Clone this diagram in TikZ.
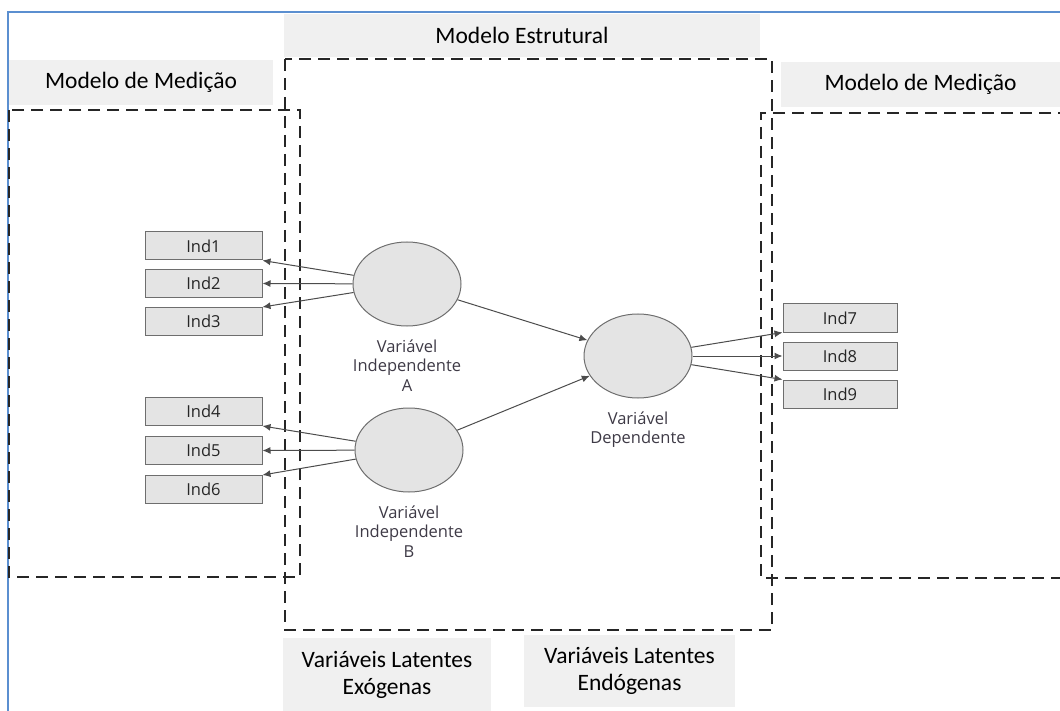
\documentclass[tikz,border=0pt]{standalone}
\usepackage{fontspec}
\setmainfont{Carlito}
\newfontfamily\indfont{Open Sans}
\usepackage{xcolor}
\usetikzlibrary{shapes.geometric,arrows.meta,positioning}

\definecolor{frameblue}{HTML}{5B8FD0}
\definecolor{labelgray}{HTML}{F0F0F0}
\definecolor{boxgray}{HTML}{E4E4E4}
\definecolor{edgegray}{HTML}{6E6E6E}
\definecolor{varcolor}{HTML}{3E3A46}

\tikzset{
  label box/.style={fill=labelgray, inner sep=0pt, align=center,
    font=\fontsize{23.5}{27}\selectfont, text=black},
  zone/.style={dash pattern=on 12pt off 7pt, line width=1.8pt, black!85},
  ind/.style={draw=edgegray, fill=boxgray, line width=1pt, minimum width=117pt,
    minimum height=28pt, inner sep=0pt, font=\indfont\fontsize{16.5}{18}\selectfont, text=black!85},
  latent/.style={ellipse, draw=edgegray, fill=boxgray, line width=1pt,
    minimum width=108pt, minimum height=84pt},
  varlabel/.style={inner sep=0pt, align=center,
    font=\indfont\fontsize{16.5}{19.5}\selectfont, text=varcolor},
  arr/.style={-{Latex[length=8pt,width=7pt]}, draw=black!70, line width=1pt}
}

\begin{document}
\begin{tikzpicture}[x=1pt,y=-1pt]
    % Fix the page size
    \clip (0,0) rectangle (1060,711);

    % Gray title boxes
    \node[label box, minimum width=476pt, minimum height=43pt] (estrutural) at (522,35.5) {Modelo Estrutural};
    \node[label box, minimum width=264pt, minimum height=45pt] (medicaoL) at (141,82.5) {Modelo de Medição};
    \node[label box, minimum width=279pt, minimum height=45pt] (medicaoR) at (920.5,84.5) {Modelo de Medição};
    \node[label box, minimum width=208pt, minimum height=73pt] (exogenas) at (387,674.5) {Variáveis Latentes\\Exógenas};
    \node[label box, minimum width=211pt, minimum height=72pt] (endogenas) at (629.5,671) {Variáveis Latentes\\Endógenas};

    % Blue frame
    \draw[frameblue, line width=1.5pt] (8,720) -- (8,12) -- (1070,12);

    % Dashed zones
    \draw[zone] (9,110) rectangle (300,577);
    \draw[zone] (285,59) rectangle (772,630);
    \draw[zone] (1070,113) -- (761,113) -- (761,578) -- (1070,578);

    % Indicators
    \foreach \i/\y in {1/246,2/283.5,3/321.5,4/411.5,5/450.5,6/489.5}
        \node[ind] (ind\i) at (203.5,\y) {Ind\i};
    \foreach \i/\y in {7/318,8/356,9/394}
        \node[ind, minimum width=114pt] (ind\i) at (840,\y) {Ind\i};

    % Latent variables
    \node[latent] (varA) at (407,284) {};
    \node[latent] (varB) at (409,450) {};
    \node[latent] (varDep) at (638,356) {};
    \node[varlabel, below=13pt of varA] (labA) {Variável\\Independente\\A};
    \node[varlabel, below=13pt of varB] (labB) {Variável\\Independente\\B};
    \node[varlabel, below=13pt of varDep] (labDep) {Variável\\Dependente};

    % Arrows
    \foreach \i/\a in {1/south east,2/east,3/north east}
        \draw[arr] (varA) -- (ind\i.\a);
    \foreach \i/\a in {4/south east,5/east,6/north east}
        \draw[arr] (varB) -- (ind\i.\a);
    \foreach \i/\a in {7/south west,8/west,9/north west}
        \draw[arr] (varDep) -- (ind\i.\a);
    \draw[arr] (varA) -- (varDep);
    \draw[arr] (varB) -- (varDep);
\end{tikzpicture}
\end{document}
